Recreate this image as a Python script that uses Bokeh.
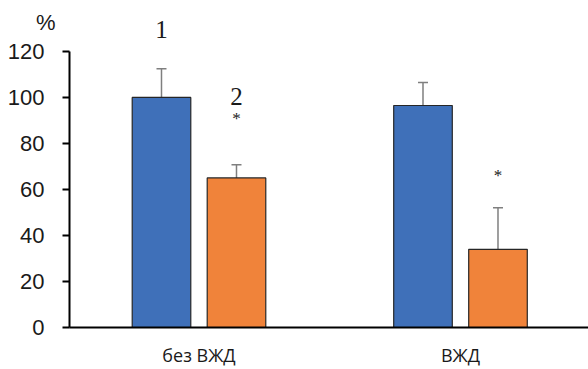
from bokeh.plotting import figure
from bokeh.layouts import column
from bokeh.models import ColumnDataSource, Whisker, TeeHead, Range1d
from bokeh.core.properties import value
from bokeh.embed import file_html
from bokeh.resources import INLINE

categories = ["без ВЖД", "ВЖД"]
series1 = [100, 96.5]
series1_err = [12.5, 10]
series2 = [65, 34]
series2_err = [5.7, 18]
y_ticks = [0, 20, 40, 60, 80, 100, 120]
marks_group = [0, 0, 0, 1]
marks_series = [1, 2, 2, 2]
marks_y = [129.5, 100.6, 91, 66]
marks_text = ["1", "2", "*", "*"]
unit_label = "%"
unit_y = 132.5

blue = "#3F70B9"
orange = "#F0833A"

off = 0.1434
bw = 0.224
xs = [i + 1 for i in range(len(categories))]

# scale: 261.5 px per category, 2.3167 px per %
PX_PER_Y = 2.3167
HEAD_H = 40
MAIN_H = 329
X0, X1 = 0.5048, 2.4895
Y_SPLIT = (MAIN_H - 40) / PX_PER_Y
Y_TOP = Y_SPLIT + HEAD_H / PX_PER_Y

p = figure(x_range=Range1d(X0, X1), y_range=Range1d(0, Y_SPLIT),
           width=588, height=MAIN_H, output_backend="svg", toolbar_location=None,
           min_border_left=69, min_border_right=0, min_border_top=0, min_border_bottom=40)
p.outline_line_color = None
p.xgrid.visible = False
p.ygrid.visible = False

# header strip: continuation of the y scale above the main frame
h = figure(x_range=p.x_range, y_range=Range1d(Y_SPLIT, Y_TOP),
           width=588, height=HEAD_H, output_backend="svg", toolbar_location=None,
           min_border_left=69, min_border_right=0, min_border_top=0, min_border_bottom=0)
h.outline_line_color = None
h.xaxis.visible = False
h.xgrid.visible = False
h.ygrid.visible = False
h.yaxis.ticker = [unit_y]
h.yaxis.major_label_overrides = {unit_y: unit_label}
h.yaxis.axis_line_color = None
h.yaxis.major_tick_line_color = None
h.yaxis.minor_tick_line_color = None
h.yaxis.major_tick_out = 0
h.yaxis.major_tick_in = 0
h.yaxis.major_label_standoff = 14
h.yaxis.major_label_text_font = "Liberation Sans"
h.yaxis.major_label_text_font_size = "22px"
h.yaxis.major_label_text_color = "#1a1a1a"

s1 = ColumnDataSource(dict(x=[x - off for x in xs], val=series1,
                           up=[v + e for v, e in zip(series1, series1_err)]))
s2 = ColumnDataSource(dict(x=[x + off for x in xs], val=series2,
                           up=[v + e for v, e in zip(series2, series2_err)]))

for src, col in [(s1, blue), (s2, orange)]:
    w = Whisker(base="x", lower="val", upper="up", source=src,
                line_color="#7F7F7F", line_width=1.5, lower_head=None,
                upper_head=TeeHead(size=10, line_color="#7F7F7F", line_width=1.5))
    p.add_layout(w)
    p.vbar(x="x", top="val", width=bw, source=src,
           fill_color=col, line_color="#262626", line_width=1.2)

mx = [xs[g] + (off if s == 2 else -off) for g, s in zip(marks_group, marks_series)]
for fig, sel in [(h, lambda yv: yv > Y_SPLIT), (p, lambda yv: yv <= Y_SPLIT)]:
    big = [i for i, t in enumerate(marks_text) if t != "*" and sel(marks_y[i])]
    star = [i for i, t in enumerate(marks_text) if t == "*" and sel(marks_y[i])]
    if big:
        fig.text(x=[mx[i] for i in big], y=[marks_y[i] for i in big], text=[marks_text[i] for i in big],
                 text_font=value("Liberation Serif"), text_font_size="25px",
                 text_align="center", text_baseline="middle", text_color="#1a1a1a")
    if star:
        fig.text(x=[mx[i] for i in star], y=[marks_y[i] for i in star], text=[marks_text[i] for i in star],
                 text_font=value("Liberation Serif"), text_font_size="17px",
                 text_align="center", text_baseline="middle", text_color="#1a1a1a")

# y axis
p.yaxis.ticker = y_ticks
p.yaxis.bounds = (0, 120)
p.yaxis.axis_line_width = 2
p.yaxis.axis_line_color = "black"
p.yaxis.major_tick_line_width = 2
p.yaxis.major_tick_line_color = "black"
p.yaxis.major_tick_out = 7
p.yaxis.major_tick_in = 0
p.yaxis.minor_tick_line_color = None
p.yaxis.major_label_standoff = 18
p.yaxis.major_label_text_font = "Liberation Sans"
p.yaxis.major_label_text_font_size = "22px"
p.yaxis.major_label_text_color = "#1a1a1a"

# x axis
p.xaxis.ticker = xs
p.xaxis.major_label_overrides = {x: c for x, c in zip(xs, categories)}
p.xaxis.axis_line_width = 2
p.xaxis.axis_line_color = "black"
p.xaxis.major_tick_line_color = None
p.xaxis.major_tick_out = 0
p.xaxis.major_tick_in = 0
p.xaxis.minor_tick_line_color = None
p.xaxis.major_label_standoff = 15
p.xaxis.major_label_text_font = "Open Sans"
p.xaxis.major_label_text_font_size = "18px"
p.xaxis.major_label_text_color = "#1a1a1a"

layout = column(h, p, spacing=0)
open("out.html", "w").write(file_html(layout, INLINE))
